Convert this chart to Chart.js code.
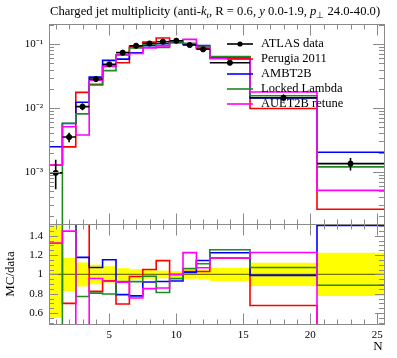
<!DOCTYPE html>
<html><head><meta charset="utf-8">
<script src="https://cdn.jsdelivr.net/npm/chart.js@4/dist/chart.umd.min.js"></script>
<style>html,body{margin:0;padding:0;background:#fff}</style>
</head><body>
<canvas id="c" width="397" height="358"></canvas>
<script>
// ---------------- data ----------------
const binEdges   = [0.5,1.5,2.5,3.5,4.5,5.5,6.5,7.5,8.5,9.5,10.5,11.5,12.5,15.5,20.5,25.5];
const binCenters = [1,2,3,4,5,6,7,8,9,10,11,12,14,18,23];
const atlasData    = [9.6e-4,3.5e-3,1.05e-2,2.85e-2,4.85e-2,7.4e-2,9.5e-2,0.103,0.110,0.114,0.0975,0.0835,0.0514,0.0145,1.34e-3];
const atlasErrUp   = [5.8e-4,6.0e-4,1.3e-3,2.9e-3,4.1e-3,4.8e-3,5.2e-3,4.6e-3,4.4e-3,4.0e-3,4.4e-3,4.2e-3,3.5e-3,1.75e-3,3.0e-4];
const atlasErrDown = [4.3e-4,6.0e-4,1.3e-3,2.9e-3,4.1e-3,4.8e-3,5.2e-3,4.6e-3,4.4e-3,4.0e-3,4.4e-3,4.2e-3,3.5e-3,1.75e-3,3.0e-4];
const perugia2011  = [1.27e-3,2.45e-3,1.76e-2,2.35e-2,4.53e-2,5.14e-2,9.29e-2,0.1083,0.1257,0.114,0.1004,0.0860,0.0602,9.83e-3,2.58e-4];
const ambt2b       = [2.47e-3,5.7e-3,1.235e-2,3.055e-2,5.59e-2,5.85e-2,7.39e-2,9.50e-2,0.1019,0.1062,0.0996,0.0956,0.0629,1.436e-2,2.02e-3];
const lockedLambda = [5e-5,5.75e-3,8.1e-3,2.30e-2,3.87e-2,6.85e-2,8.79e-2,0.1011,0.0894,0.1090,0.1034,0.0927,0.0645,1.554e-2,1.19e-3];
const auet2bRetune = [1.27e-3,5.07e-3,3.78e-3,2.73e-2,4.51e-2,6.81e-2,7.19e-2,8.79e-2,9.46e-2,0.114,0.1195,0.0893,0.0602,1.78e-2,5.1e-4];
const seriesLabels = ['ATLAS data','Perugia 2011','AMBT2B','Locked Lambda','AUET2B retune'];
const seriesColors = ['#000000','#ff0000','#0000ff','#1f8a1f','#ff00ff'];
const xTickLabels = [5,10,15,20,25];
const yTickLabels = [1e-3,1e-2,1e-1];
const ratioTickLabels = [0.6,0.8,1,1.2,1.4];

// ---------------- helpers ----------------
const FONT = 'Liberation Serif';
function steps(vals, ratio){
  const pts=[];
  vals.forEach((v,i)=>{
    const y = ratio ? v/atlasData[i] : v;
    pts.push({x:binEdges[i],y:y},{x:binEdges[i+1],y:y});
  });
  return pts;
}
const supMap={'-':'⁻','0':'⁰','1':'¹','2':'²','3':'³','4':'⁴','5':'⁵','6':'⁶','7':'⁷','8':'⁸','9':'⁹'};
function sup(v){const e=Math.round(Math.log10(v));return '10'+String(e).split('').map(c=>supMap[c]).join('');}

const mcSeries=[perugia2011,ambt2b,lockedLambda,auet2bRetune];
const datasets=[];
mcSeries.forEach((s,k)=>{
  datasets.push({data:steps(s,false),yAxisID:'yTop',borderColor:seriesColors[k+1],borderWidth:1.6,pointRadius:0,fill:false,order:5-k,tension:0});
  datasets.push({data:steps(s,true),yAxisID:'yR',borderColor:seriesColors[k+1],borderWidth:1.6,pointRadius:0,fill:false,order:5-k,tension:0});
});
datasets.push({data:steps(atlasData,true),yAxisID:'yR',borderColor:'rgba(0,0,0,0.55)',borderWidth:1.2,pointRadius:0,order:10});
datasets.push({data:atlasData.map((v,i)=>({x:binCenters[i],y:v})),yAxisID:'yTop',showLine:false,pointRadius:2.6,pointBackgroundColor:'#000',pointBorderColor:'#000',borderColor:'#000',order:0});

const frameColor='#8a8a8a';
const custom={
  id:'custom',
  beforeDatasetsDraw(chart){
    const {ctx,chartArea}=chart; const x=chart.scales.x, yR=chart.scales.yR;
    ctx.save();
    ctx.beginPath(); ctx.rect(chartArea.left,yR.top,chartArea.right-chartArea.left,yR.bottom-yR.top); ctx.clip();
    ctx.fillStyle='#ffff00';
    atlasData.forEach((v,i)=>{
      const x0=x.getPixelForValue(binEdges[i]), x1=x.getPixelForValue(binEdges[i+1]);
      const y0=yR.getPixelForValue(1+atlasErrUp[i]/v), y1=yR.getPixelForValue(1-atlasErrDown[i]/v);
      ctx.fillRect(x0,y0,x1-x0,y1-y0);
    });
    ctx.restore();
  },
  beforeDatasetDraw(chart,args){
    const ys=chart.scales[args.meta.yAxisID]; const ca=chart.chartArea; const ctx=chart.ctx;
    ctx.save(); ctx.beginPath(); ctx.rect(ca.left,ys.top,ca.right-ca.left,ys.bottom-ys.top); ctx.clip();
  },
  afterDatasetDraw(chart){ chart.ctx.restore(); },
  afterDatasetsDraw(chart){
    const {ctx,chartArea}=chart; const x=chart.scales.x, yT=chart.scales.yTop, yR=chart.scales.yR;
    const L=chartArea.left, R=chartArea.right;
    // error bars
    ctx.save();
    ctx.beginPath(); ctx.rect(L,yT.top,R-L,yT.bottom-yT.top); ctx.clip();
    ctx.strokeStyle='#000'; ctx.lineWidth=1.6;
    atlasData.forEach((v,i)=>{
      const cx=x.getPixelForValue(binCenters[i]), cy=yT.getPixelForValue(v);
      ctx.beginPath();
      ctx.moveTo(x.getPixelForValue(binEdges[i]),cy); ctx.lineTo(x.getPixelForValue(binEdges[i+1]),cy);
      ctx.moveTo(cx,yT.getPixelForValue(v+atlasErrUp[i])); ctx.lineTo(cx,yT.getPixelForValue(v-atlasErrDown[i]));
      ctx.stroke();
    });
    ctx.restore();
    // frames + ticks
    ctx.save();
    ctx.strokeStyle=frameColor; ctx.lineWidth=1;
    const line=(a,b,c,d)=>{ctx.beginPath();ctx.moveTo(a,b);ctx.lineTo(c,d);ctx.stroke();};
    for(const ys of [yT,yR]){
      const T=Math.round(ys.top)+0.5, B=Math.round(ys.bottom)+0.5;
      ctx.strokeRect(Math.round(L)+0.5,T,Math.round(R-L),B-T);
      for(let n=1;n<=25;n++){
        const len=n%5===0?11:5; const px=Math.round(x.getPixelForValue(n))+0.5;
        line(px,T,px,T+len); line(px,B,px,B-len);
      }
    }
    for(let e=-4;e<=-1;e++){
      for(let m=1;m<=9;m++){
        const v=m*Math.pow(10,e);
        if(v<yT.min||v>yT.max) continue;
        const len=m===1?11:5; const py=Math.round(yT.getPixelForValue(v))+0.5;
        line(L,py,L+len,py); line(R,py,R-len,py);
      }
    }
    for(let k=10;k<=30;k++){
      const v=k*0.05; if(v<yR.min||v>yR.max) continue;
      const len=k%4===0?9:5; const py=Math.round(yR.getPixelForValue(v))+0.5;
      line(L,py,L+len,py); line(R,py,R-len,py);
    }
    ctx.restore();
    // legend
    ctx.save();
    ctx.font='12.5px "'+FONT+'"'; ctx.textBaseline='middle'; ctx.fillStyle='#000';
    seriesLabels.forEach((lab,i)=>{
      const yy=44+i*15;
      ctx.strokeStyle=seriesColors[i]; ctx.lineWidth=1.6;
      line(227,yy,253,yy);
      if(i===0){ctx.beginPath();ctx.arc(240,yy,2.6,0,Math.PI*2);ctx.fill();}
      ctx.fillText(lab,261,yy);
    });
    // axis labels
    ctx.font='13px "'+FONT+'"'; ctx.textAlign='center';
    ctx.fillText('N',378,347);
    ctx.save(); ctx.translate(11,274); ctx.rotate(-Math.PI/2); ctx.fillText('MC/data',0,0); ctx.restore();
    // title
    const parts=[['Charged jet multiplicity (anti-','n'],['k','i'],['t','si'],[', R = 0.6, ','n'],['y','i'],[' 0.0-1.9, ','n'],['p','i'],['⊥','s'],[' 24.0-40.0)','n']];
    const fontFor=(st,sz)=>(st.includes('i')?'italic ':'')+(st.includes('s')?(sz*0.7).toFixed(1):sz)+'px "'+FONT+'"';
    const measure=sz=>parts.reduce((w,p)=>{ctx.font=fontFor(p[1],sz);return w+ctx.measureText(p[0]).width;},0);
    const sz=12*330/measure(12);
    let tx=50; ctx.textAlign='left'; ctx.textBaseline='alphabetic';
    parts.forEach(p=>{ctx.font=fontFor(p[1],sz); ctx.fillText(p[0],tx,p[1].includes('s')?17.5:15); tx+=ctx.measureText(p[0]).width;});
    ctx.restore();
  }
};

const tickFont={family:FONT,size:11};
new Chart(document.getElementById('c'),{
  type:'line',
  data:{datasets:datasets},
  options:{
    responsive:false,animation:false,devicePixelRatio:1,
    layout:{padding:{top:24,right:13,left:0,bottom:0}},
    plugins:{legend:{display:false},tooltip:{enabled:false}},
    scales:{
      x:{type:'linear',min:0.5,max:25.5,position:'bottom',
        grid:{display:false,drawTicks:false},border:{display:false},
        ticks:{padding:5,font:tickFont,color:'#000',maxRotation:0,autoSkip:false,callback:v=>String(v)},
        afterBuildTicks:s=>{s.ticks=xTickLabels.map(v=>({value:v}));},
        afterFit:s=>{s.height=34;}},
      yR:{type:'linear',min:0.487,max:1.522,position:'left',stack:'plot',stackWeight:1,
        grid:{display:false,drawTicks:false},border:{display:false},
        ticks:{padding:6,font:tickFont,color:'#000',autoSkip:false,callback:v=>String(v)},
        afterBuildTicks:s=>{s.ticks=ratioTickLabels.map(v=>({value:v}));},
        afterFit:s=>{s.width=49;}},
      yTop:{type:'logarithmic',min:1.51e-4,max:0.2085,position:'left',stack:'plot',stackWeight:2,
        grid:{display:false,drawTicks:false},border:{display:false},
        ticks:{padding:6,font:tickFont,color:'#000',autoSkip:false,callback:v=>sup(v)},
        afterBuildTicks:s=>{s.ticks=yTickLabels.map(v=>({value:v}));},
        afterFit:s=>{s.width=49;}}
    }
  },
  plugins:[custom]
});
</script>
</body></html>
